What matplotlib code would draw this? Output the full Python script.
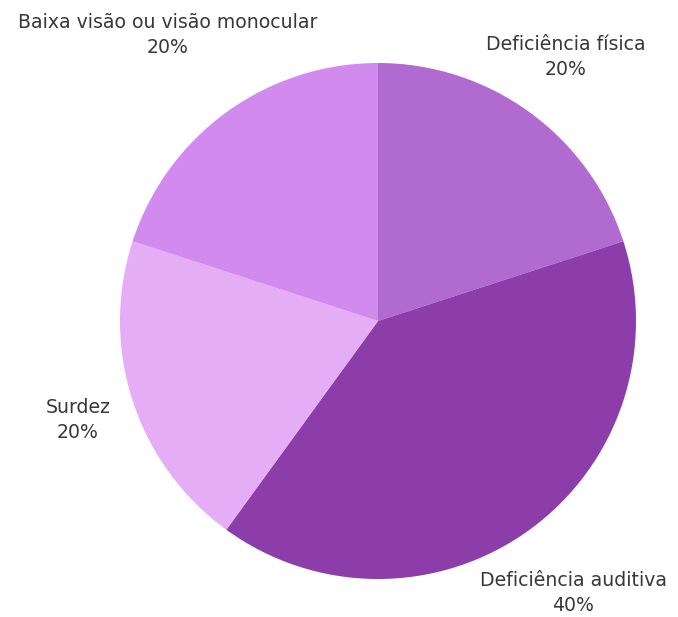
import matplotlib.pyplot as plt

categories = ['Deficiência física', 'Deficiência auditiva', 'Surdez',
              'Baixa visão ou visão monocular']
values = [20, 40, 20, 20]
colors = ['#B06AD0', '#8C3DAA', '#E4ADF5', '#D38AEF']

# label anchor points (pixel space, y measured from the bottom)
label_pos = [(566, 560), (573, 24), (78, 197), (168, 582)]

fig = plt.figure(figsize=(6.78, 6.17), dpi=100)
ax = fig.add_axes([0, 0, 1, 1])
ax.set_xlim(0, 678)
ax.set_ylim(0, 617)
ax.set_aspect('equal')

ax.pie(values, colors=colors, startangle=90, counterclock=False,
       center=(378, 296), radius=258, frame=True,
       wedgeprops={'linewidth': 0})
ax.axis('off')

for name, v, (x, y) in zip(categories, values, label_pos):
    ax.text(x, y, '{}\n{}%'.format(name, v), ha='center', va='center',
            fontsize=13.6, color='#383838', family='DejaVu Sans',
            linespacing=1.45)

fig.savefig('out.png', dpi=100, facecolor='white')
